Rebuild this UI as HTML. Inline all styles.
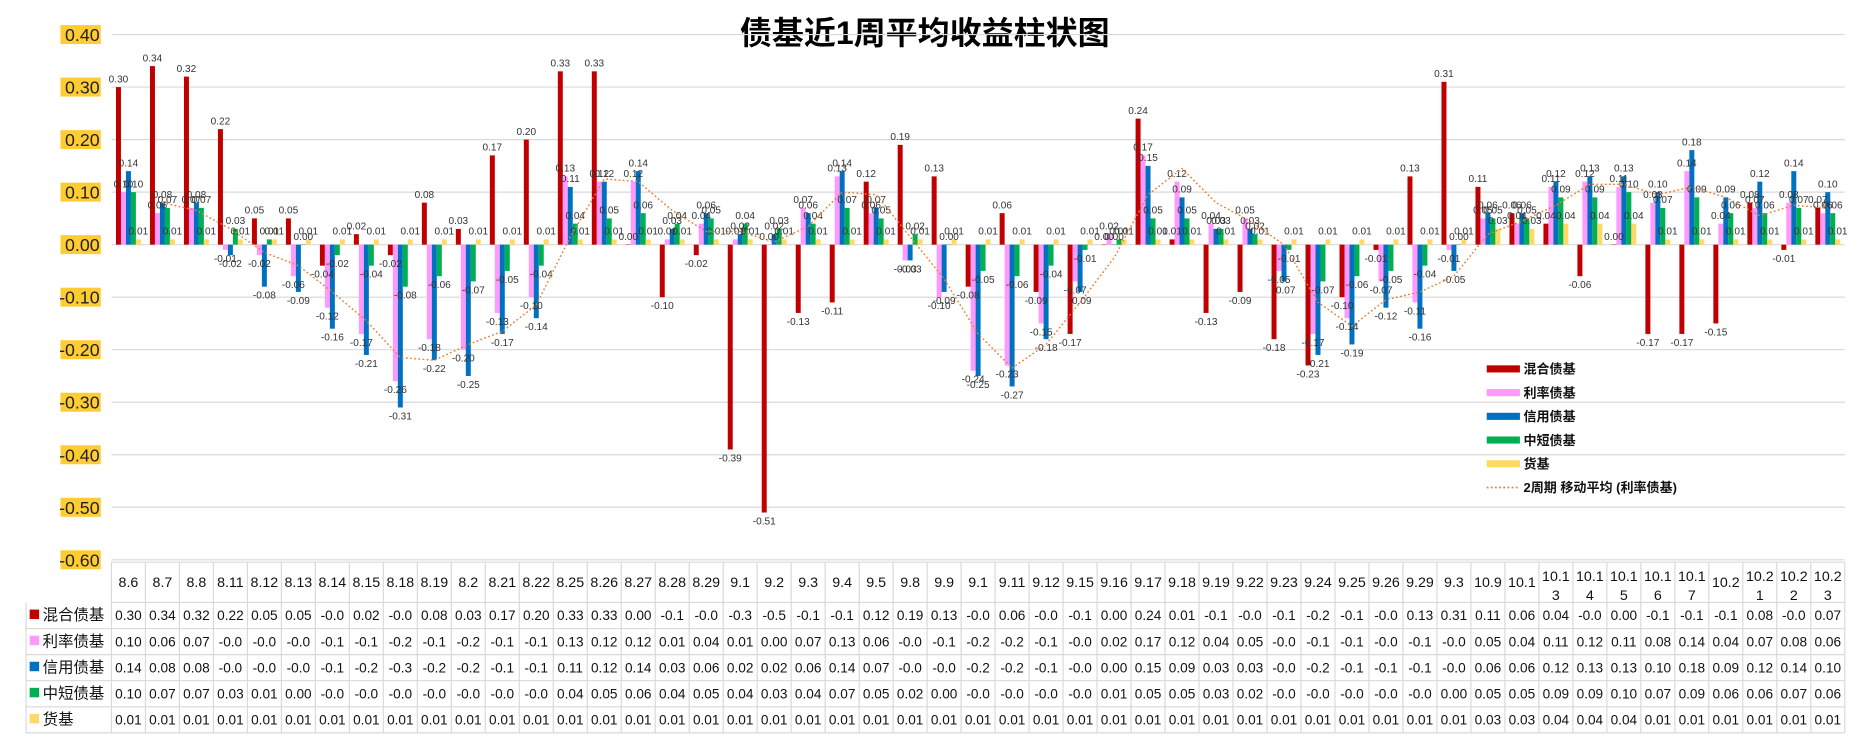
<!DOCTYPE html>
<html><head><meta charset="utf-8">
<style>
html,body{margin:0;padding:0;background:#fff;}
svg{display:block;font-family:"Liberation Sans","Noto Sans CJK SC",sans-serif;}
</style></head>
<body>
<svg id="chart" width="1859" height="739" viewBox="0 0 1568 623" xmlns="http://www.w3.org/2000/svg">
<text x="780" y="37" text-anchor="middle" font-size="27" font-weight="bold" fill="#000">债基近1周平均收益柱状图</text>
<g id="grid"></g><g id="yaxis"></g><g id="bars"></g><g id="labels"></g><g id="ma"></g><g id="legend"></g><g id="table"></g>
</svg>
<script>
const categories=["8.6","8.7","8.8","8.11","8.12","8.13","8.14","8.15","8.18","8.19","8.2","8.21","8.22","8.25","8.26","8.27","8.28","8.29","9.1","9.2","9.3","9.4","9.5","9.8","9.9","9.1","9.11","9.12","9.15","9.16","9.17","9.18","9.19","9.22","9.23","9.24","9.25","9.26","9.29","9.3","10.9","10.1","10.13","10.14","10.15","10.16","10.17","10.2","10.21","10.22","10.23"];
const hunhe=[0.30,0.34,0.32,0.22,0.05,0.05,-0.04,0.02,-0.02,0.08,0.03,0.17,0.20,0.33,0.33,0.00,-0.10,-0.02,-0.39,-0.51,-0.13,-0.11,0.12,0.19,0.13,-0.08,0.06,-0.09,-0.17,0.00,0.24,0.01,-0.13,-0.09,-0.18,-0.23,-0.10,-0.01,0.13,0.31,0.11,0.06,0.04,-0.06,0.00,-0.17,-0.17,-0.15,0.08,-0.01,0.07];
const lilv=[0.10,0.06,0.07,-0.01,-0.02,-0.06,-0.12,-0.17,-0.26,-0.18,-0.20,-0.13,-0.10,0.13,0.12,0.12,0.01,0.04,0.01,0.00,0.07,0.13,0.06,-0.03,-0.10,-0.24,-0.23,-0.15,-0.07,0.02,0.17,0.12,0.04,0.05,-0.05,-0.17,-0.14,-0.07,-0.11,-0.01,0.05,0.04,0.11,0.12,0.11,0.08,0.14,0.04,0.07,0.08,0.06];
const xinyong=[0.14,0.08,0.08,-0.02,-0.08,-0.09,-0.16,-0.21,-0.31,-0.22,-0.25,-0.17,-0.14,0.11,0.12,0.14,0.03,0.06,0.02,0.02,0.06,0.14,0.07,-0.03,-0.09,-0.25,-0.27,-0.18,-0.09,0.00,0.15,0.09,0.03,0.03,-0.07,-0.21,-0.19,-0.12,-0.16,-0.05,0.06,0.06,0.12,0.13,0.13,0.10,0.18,0.09,0.12,0.14,0.10];
const zhongduan=[0.10,0.07,0.07,0.03,0.01,0.00,-0.02,-0.04,-0.08,-0.06,-0.07,-0.05,-0.04,0.04,0.05,0.06,0.04,0.05,0.04,0.03,0.04,0.07,0.05,0.02,0.00,-0.05,-0.06,-0.04,-0.01,0.01,0.05,0.05,0.03,0.02,-0.01,-0.07,-0.06,-0.05,-0.04,0.00,0.05,0.05,0.09,0.09,0.10,0.07,0.09,0.06,0.06,0.07,0.06];
const huoji=[0.01,0.01,0.01,0.01,0.01,0.01,0.01,0.01,0.01,0.01,
0.01,0.01,0.01,0.01,0.01,0.01,0.01,0.01,0.01,0.01,
0.01,0.01,0.01,0.01,0.01,0.01,0.01,0.01,0.01,0.01,
0.01,0.01,0.01,0.01,0.01,0.01,0.01,0.01,0.01,0.01,
0.03,0.03,0.04,0.04,0.04,0.01,0.01,0.01,0.01,0.01,
0.01];
const seriesNames=["混合债基","利率债基","信用债基","中短债基","货基"];
const yTicks=[0.40,0.30,0.20,0.10,0.00,-0.10,-0.20,-0.30,-0.40,-0.50,-0.60];

const series=[hunhe,lilv,xinyong,zhongduan,huoji];
const colors=["#C00000","#FF99FF","#0070C0","#00B050","#FFD966"];
const NS="http://www.w3.org/2000/svg";
const X0=94,X1=1556,YT=29,YB=472,YMAX=0.4,YMIN=-0.6;
const n=categories.length, cw=(X1-X0)/n, bw=4.2;
function y(v){return YT+(YMAX-v)/(YMAX-YMIN)*(YB-YT);}
function xc(i){return X0+cw*(i+0.5);}
function mk(tag,attrs,parent,txt){const e=document.createElementNS(NS,tag);for(const k in attrs)e.setAttribute(k,attrs[k]);if(txt!==undefined)e.textContent=txt;parent.appendChild(e);return e;}
const g=id=>document.getElementById(id);

yTicks.forEach(t=>{
  const ln=mk('line',{x1:X0,x2:X1,y1:y(t),y2:y(t),stroke:'#d9d9d9','stroke-width':1},g('grid'));
  
  
  const r=mk('rect',{x:51,y:y(t)-8,width:34,height:16,fill:'#FFCC33'},g('yaxis'));
  
  
  const tx=mk('text',{x:84,y:y(t)+5.5,'text-anchor':'end','font-size':15,fill:'#222'},g('yaxis'),t.toFixed(2));
  
  
});

series.forEach((s,si)=>{
  s.forEach((v,i)=>{
    const bx=xc(i)-2.5*bw+si*bw;
    const top=Math.min(y(v),y(0)), h=Math.abs(y(v)-y(0));
    const b=mk('rect',{x:bx,y:top,width:bw,height:Math.max(h,0.3),fill:colors[si]},g('bars'));
    
    
    const ly=v>=0?y(v)-4:y(v)+10;
    const l=mk('text',{x:bx+bw/2,y:ly,'text-anchor':'middle','font-size':8.5,fill:'#333'},g('labels'),v.toFixed(2));
    
    
  });
});

let pts=[];
for(let i=1;i<n;i++){const m=(lilv[i]+lilv[i-1])/2;pts.push(xc(i).toFixed(1)+','+y(m).toFixed(1));}
const ma=mk('polyline',{points:pts.join(' '),fill:'none',stroke:'#ED7D31','stroke-width':1.2,'stroke-dasharray':'1.5 2'},g('ma'));



const legNames=seriesNames.concat(["2周期 移动平均 (利率债基)"]);
legNames.forEach((nm,i)=>{
  const ly=311+i*20;
  if(i<5){const r=mk('rect',{x:1254,y:ly-3,width:28,height:6,fill:colors[i]},g('legend'));
    
    }
  else{const l=mk('line',{x1:1254,x2:1282,y1:ly,y2:ly,stroke:'#ED7D31','stroke-width':1.5,'stroke-dasharray':'1.5 2'},g('legend'));
    
    }
  const t=mk('text',{x:1285,y:ly+4,'font-size':11,'font-weight':'bold',fill:'#111'},g('legend'),nm);
  
  
});

const T=g('table'), HT=474, HB=508, RH=22;
const line=(x1,y1,x2,y2)=>{const l=mk('line',{x1,y1,x2,y2,stroke:'#d9d9d9','stroke-width':1},T);};
line(X0,HT,X1,HT);
for(let r=0;r<=5;r++)line(r==0?X0:22,HB+r*RH,X1,HB+r*RH);
line(22,HB,22,HB+5*RH);
for(let i=0;i<=n;i++)line(X0+i*cw,HT,X0+i*cw,HB+5*RH);
categories.forEach((c,i)=>{
  const cx=xc(i);
  let t;
  if(c.length>4){t=mk('text',{x:cx,y:490,'text-anchor':'middle','font-size':12,fill:'#111'},T);
    mk('tspan',{x:cx,dy:0},t,c.slice(0,4));mk('tspan',{x:cx,dy:16},t,c.slice(4));}
  else t=mk('text',{x:cx,y:495,'text-anchor':'middle','font-size':12,fill:'#111'},T,c);
  
  
});
series.forEach((s,si)=>{
  const ry=HB+si*RH+15;
  const m=mk('rect',{x:25,y:ry-9,width:8,height:8,fill:colors[si]},T);
  
  
  const nm=mk('text',{x:36,y:ry,'font-size':13,fill:'#111'},T,seriesNames[si]);
  
  
  s.forEach((v,i)=>{
    let str=v.toFixed(2); if(v<0) str=v.toFixed(2).slice(0,4);
    const t=mk('text',{x:xc(i),y:ry,'text-anchor':'middle','font-size':11.5,fill:'#111'},T,str);
    
    
  });
});
</script>
</body></html>
